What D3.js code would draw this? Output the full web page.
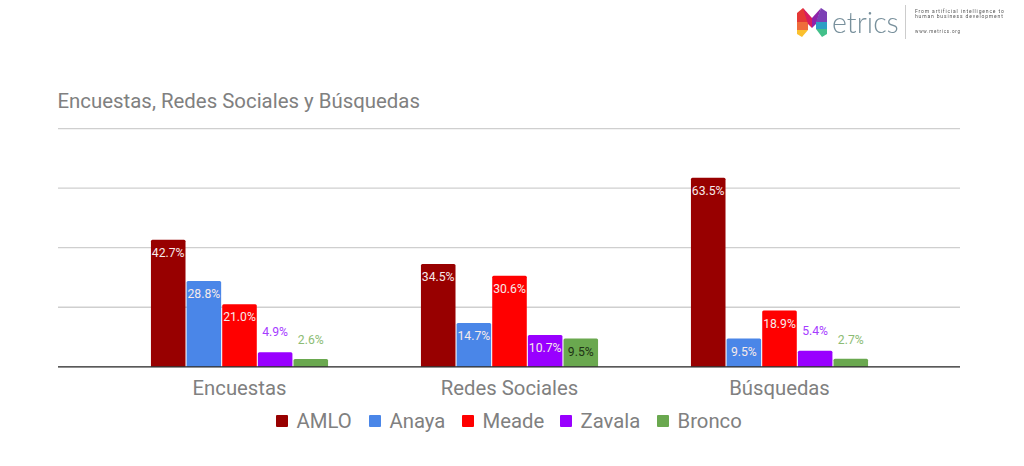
<!DOCTYPE html>
<html><head><meta charset="utf-8"><script src="https://cdnjs.cloudflare.com/ajax/libs/d3/7.8.5/d3.min.js"></script>
<style>html,body{margin:0;background:#fff}svg{display:block}text{font-family:Roboto,sans-serif}</style></head>
<body><svg id="c" width="1024" height="466"></svg>
<script>
const categories=["Encuestas","Redes Sociales","Búsquedas"];
const seriesNames=["AMLO","Anaya","Meade","Zavala","Bronco"];
const seriesColors=["#980000","#4a86e8","#ff0000","#9900ff","#6aa84f"];
const amlo=[42.7,34.5,63.5];
const anaya=[28.8,14.7,9.5];
const meade=[21.0,30.6,18.9];
const zavala=[4.9,10.7,5.4];
const bronco=[2.6,9.5,2.7];
const gridTicks=[0,20,40,60,80];
const chartTitle="Encuestas, Redes Sociales y Búsquedas";
const allSeries=[amlo,anaya,meade,zavala,bronco];

const svg=d3.select("#c");
const defs=svg.append("defs");
defs.append("filter").attr("id","soft").append("feGaussianBlur").attr("stdDeviation",0.45);
const y=d3.scaleLinear().domain([0,80]).range([366.8,128.6]);
const x0=d3.scaleBand().domain(categories).range([104.5,914.5]).paddingInner(0.344).paddingOuter(0.172);
const x1=d3.scaleBand().domain(seriesNames).range([0,x0.bandwidth()]).paddingInner(0.03);
const textGrey="#808080";

svg.append("text").attr("x",57.5).attr("y",108).attr("font-size",20.4).attr("fill",textGrey).text(chartTitle);

svg.append("g").selectAll("line").data(gridTicks.slice(1)).join("line")
 .attr("x1",58).attr("x2",960).attr("y1",d=>y(d)).attr("y2",d=>y(d)).attr("stroke","#cfcfcf").attr("stroke-width",1.3);

const groups=svg.append("g").selectAll("g").data(categories).join("g").attr("transform",c=>`translate(${x0(c)},0)`);
const rows=(c,i)=>seriesNames.map((s,j)=>({s,j,v:allSeries[j][i]}));
groups.selectAll("path").data(rows).join("path")
 .attr("fill",d=>seriesColors[d.j])
 .attr("d",d=>{const a=x1(d.s),w=x1.bandwidth(),t=y(d.v),b=y(0),r=1.5;
   return `M${a},${b}V${t+r}Q${a},${t} ${a+r},${t}H${a+w-r}Q${a+w},${t} ${a+w},${t+r}V${b}Z`;});
const outside=d=>d.v<6;
groups.selectAll("text").data(rows).join("text")
 .attr("x",d=>x1(d.s)+x1.bandwidth()/2).attr("text-anchor","middle").attr("font-size",12.2)
 .attr("y",d=>outside(d)?y(d.v)-(d.j===4?15:16):y(d.v)+17)
 .attr("fill",d=>outside(d)?(d.j===4?"#8cbc74":"#a63cff"):(d.j===4?"#1f3315":"#f6eaea"))
 .text(d=>d.v.toFixed(1)+"%");

svg.append("line").attr("x1",58).attr("x2",960).attr("y1",y(0)).attr("y2",y(0)).attr("stroke","#222").attr("stroke-width",1.3);
const ax=svg.append("g").attr("transform",`translate(0,${y(0)})`).call(d3.axisBottom(x0).tickSize(0).tickPadding(0));
ax.select(".domain").remove();
ax.selectAll("text").attr("font-size",20.3).attr("fill",textGrey).attr("y",14).attr("dy","0.71em").style("font-family","Roboto,sans-serif");

const legendX=[275,368,461,559,656];
const lg=svg.append("g").selectAll("g").data(seriesNames).join("g").attr("transform",(d,i)=>`translate(${legendX[i]},0)`);
lg.append("rect").attr("x",1).attr("y",415).attr("width",12).attr("height",12).attr("rx",1).attr("fill",(d,i)=>seriesColors[i]);
lg.append("text").attr("x",21.5).attr("y",428).attr("font-size",20.3).attr("fill",textGrey).text(d=>d);

// logo
const logo=svg.append("g").attr("filter","url(#soft)");
const logoPolys=[
 ["#e53935",[[797,13],[803,8],[808,15],[808,22],[797,22]]],
 ["#ef6c3a",[[797,22],[808,22],[808,30],[797,30]]],
 ["#fbc02d",[[797,30],[808,30],[802,37],[797,34]]],
 ["#d81b60",[[803,8],[812,18],[812,28],[808,24]]],
 ["#8e24aa",[[821,8],[812,18],[812,28],[816,24]]],
 ["#7b3fb5",[[821,8],[827,12],[827,22],[816,22]]],
 ["#2e9fc4",[[816,22],[827,22],[827,29],[816,29]]],
 ["#43c08a",[[816,29],[827,29],[827,34],[822,37]]]];
logo.selectAll("polygon").data(logoPolys).join("polygon").attr("points",d=>d[1].join(" ")).attr("fill",d=>d[0]);
logo.append("text").attr("x",832).attr("y",32.5).attr("font-size",28.6).attr("fill","#78909c").style("font-family","Lato,sans-serif").style("font-weight",300).text("etrics");
logo.append("line").attr("x1",905.5).attr("x2",905.5).attr("y1",5).attr("y2",39).attr("stroke","#ccc");
logo.append("text").attr("x",915).attr("y",13).attr("font-size",5).attr("letter-spacing",0.85).attr("fill","#555").text("From artificial intelligence to");
logo.append("text").attr("x",915).attr("y",18).attr("font-size",5).attr("letter-spacing",0.85).attr("fill","#555").text("human business development");
logo.append("text").attr("x",915).attr("y",33).attr("font-size",4.5).attr("letter-spacing",0.8).attr("fill","#555").text("www.metrics.org");
</script></body></html>
